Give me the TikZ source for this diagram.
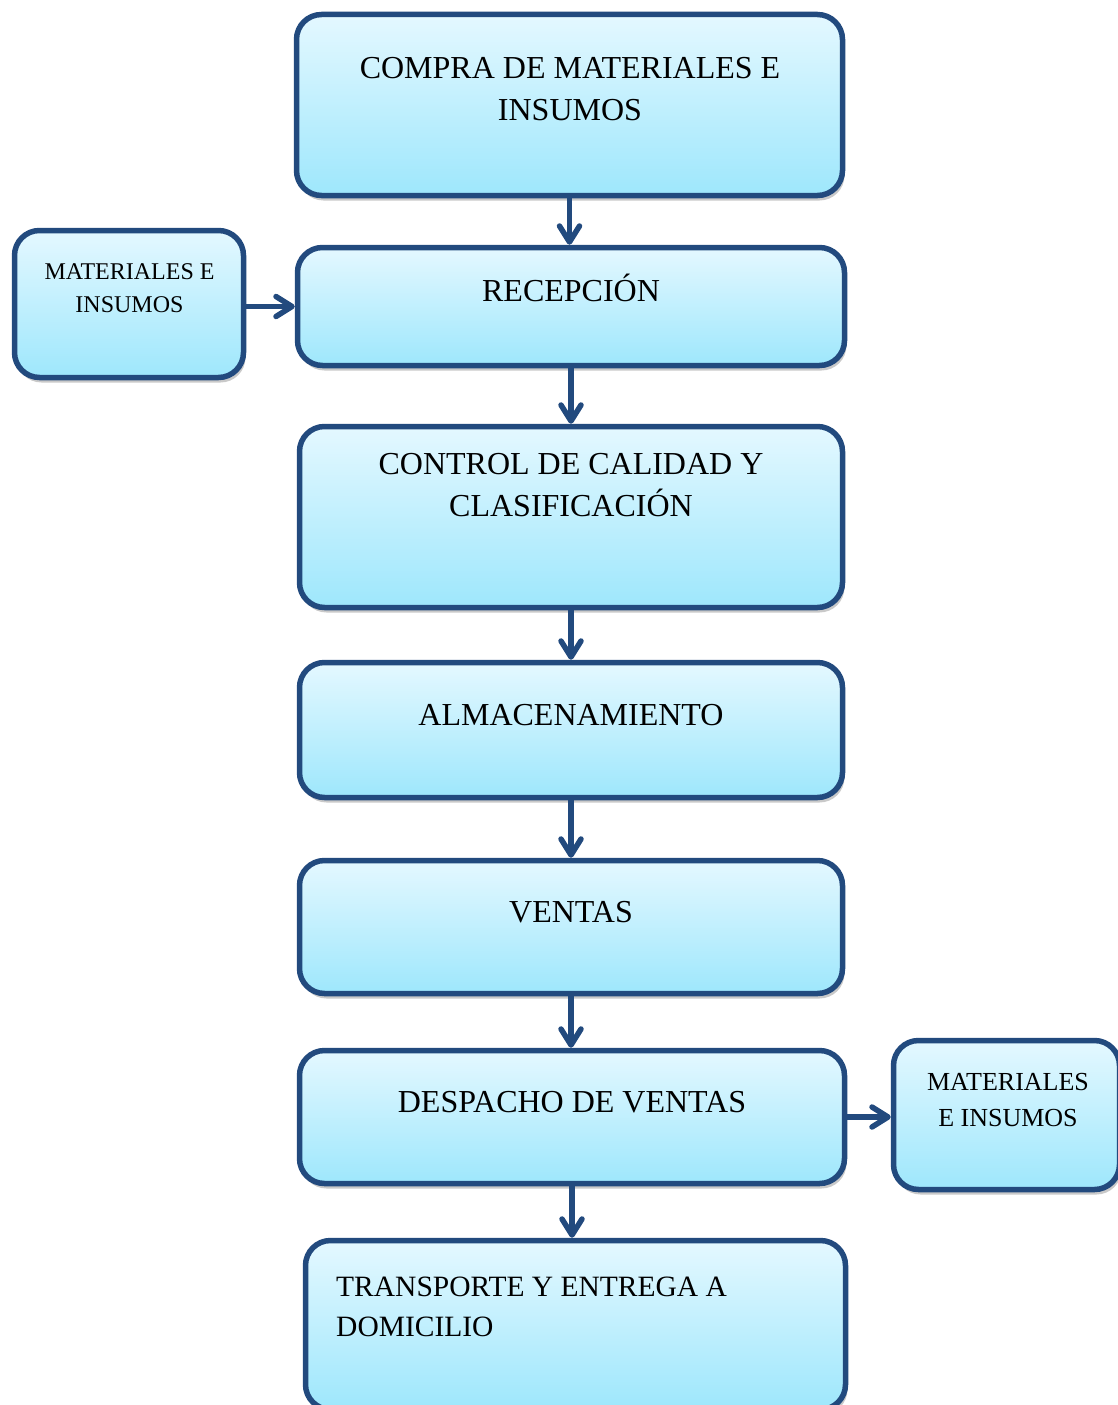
\documentclass[tikz,border=0pt]{standalone}
\usepackage{fontspec}
\setmainfont{Liberation Serif}
\usetikzlibrary{positioning, arrows.meta, shadows}
\definecolor{borde}{HTML}{224A7E}
\definecolor{cajaarriba}{HTML}{E4F8FF}
\definecolor{cajaabajo}{HTML}{9EE7FC}

\begin{document}
\begin{tikzpicture}[x=1pt, y=-1pt,
	caja/.style={draw=borde, line width=5.5pt, rectangle, rounded corners=25pt,
		top color=cajaarriba, bottom color=cajaabajo,
		drop shadow={shadow xshift=2pt, shadow yshift=-5pt, opacity=0.3, fill=black!70}},
	texto/.style={align=center, inner sep=0pt, font=\fontsize{32}{42}\selectfont},
	flecha/.style={draw=borde, line width=5.5pt, line cap=round,
		-{Straight Barb[length=16pt, width=20pt, line join=round, line cap=round]}}]
		\useasboundingbox (0,0) rectangle (1118,1405);
		
		%Main flow's boxes
		\node (Compra) at (569.5,105) [caja, minimum width=546pt, minimum height=181pt]{};
		\node (Recepcion) at (571,306.5) [caja, minimum width=547pt, minimum height=118pt]{};
		\node (Control) at (571,517) [caja, minimum width=543pt, minimum height=181pt]{};
		\node (Almacen) at (571,730) [caja, minimum width=543pt, minimum height=135pt]{};
		\node (Ventas) at (571,927) [caja, minimum width=543pt, minimum height=133pt]{};
		\node (Despacho) at (572,1117) [caja, minimum width=545pt, minimum height=133pt]{};
		\node (Transporte) at (575.5,1325) [caja, minimum width=540pt, minimum height=169pt]{};
		
		%Side boxes
		\node (Insumos1) at (129,304) [caja, minimum width=229pt, minimum height=147pt]{};
		\node (Insumos2) at (1006.5,1115) [caja, minimum width=226pt, minimum height=149pt]{};
		
		%Writing inside the boxes
		\node (Escrito1) at (570,89.5) [texto]{COMPRA DE MATERIALES E\\INSUMOS};
		\node (Escrito2) at (571,288) [texto]{RECEPCIÓN};
		\node (Escrito3) at (571,485) [texto]{CONTROL DE CALIDAD Y\\CLASIFICACIÓN};
		\node (Escrito4) at (571,715) [texto]{ALMACENAMIENTO};
		\node (Escrito5) at (571,912) [texto]{VENTAS};
		\node (Escrito6) at (572,1102) [texto]{DESPACHO DE VENTAS};
		\node (Escrito7) at (336,1307) [texto, anchor=west, align=left,
			font=\fontsize{29.5}{40}\selectfont]{TRANSPORTE Y ENTREGA A\\DOMICILIO};
		\node (Escrito8) at (129.5,288.5) [texto, font=\fontsize{24}{33}\selectfont]{MATERIALES E\\INSUMOS};
		\node (Escrito9) at (1008,1100) [texto, font=\fontsize{26}{36}\selectfont]{MATERIALES\\E INSUMOS};
		
		%Links among blocks
		\draw[flecha] (Compra.south) -- (Compra.south |- Recepcion.north);
		\draw[flecha] (Recepcion.south) -- (Recepcion.south |- Control.north);
		\draw[flecha] (Control.south) -- (Control.south |- Almacen.north);
		\draw[flecha] (Almacen.south) -- (Almacen.south |- Ventas.north);
		\draw[flecha] (Ventas.south) -- (Ventas.south |- Despacho.north);
		\draw[flecha] (Despacho.south) -- (Despacho.south |- Transporte.north);
		\draw[flecha] (Insumos1.east |- Recepcion.west) -- (Recepcion.west);
		\draw[flecha] (Despacho.east) -- (Despacho.east -| Insumos2.west);
		
\end{tikzpicture}
\end{document}
